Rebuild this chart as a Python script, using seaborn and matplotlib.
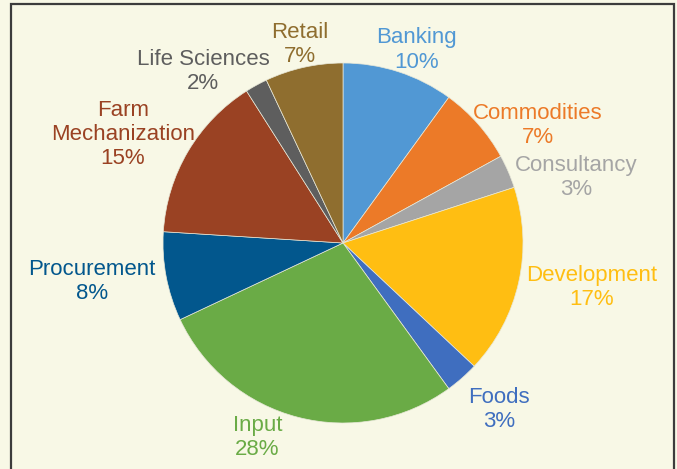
import matplotlib
matplotlib.use("Agg")
import matplotlib.pyplot as plt
import matplotlib.transforms as mtransforms
import seaborn as sns
import numpy as np
from matplotlib.patches import Rectangle

categories = ["Banking", "Commodities", "Consultancy", "Development", "Foods",
              "Input", "Procurement", "Farm\nMechanization", "Life Sciences", "Retail"]
values = [10, 7, 3, 17, 3, 28, 8, 15, 2, 7]
colors = ["#5198D4", "#EC7A28", "#A5A5A5", "#FFBE12", "#3F6EBF",
          "#6AAB46", "#02578D", "#9A4223", "#5E5E5E", "#8F6E2F"]
text_colors = ["#5198D4", "#EC7A28", "#A5A5A5", "#FFBE12", "#3F6EBF",
               "#6AAB46", "#02578D", "#9A4223", "#5E5E5E", "#8F6E2F"]
# label placement (polar: degrees clockwise from 12 o'clock, distance in radii)
label_angle = [20.5, 58.4, 73.8, 99.6, 136.4, 204.0, 261.9, 296.7, 321.2, 347.9]
label_dist = [1.16, 1.27, 1.35, 1.40, 1.26, 1.17, 1.41, 1.37, 1.24, 1.14]

sns.set_style("white")
plt.rcParams["font.family"] = ["Liberation Sans", "DejaVu Sans"]

bg = "#F8F8E6"
fig = plt.figure(figsize=(6.77, 4.69), dpi=100, facecolor=bg)
W, H = 677, 469
cx, cy, R = 343, 243, 180
ax = fig.add_axes([(cx - R) / W, (H - cy - R) / H, 2 * R / W, 2 * R / H])
ax.set_facecolor(bg)

wedges, _ = ax.pie(values, colors=colors, startangle=90, counterclock=False,
                   radius=1.0, wedgeprops=dict(edgecolor="#E8E8D8", linewidth=0.5))
ax.set_xlim(-1, 1)
ax.set_ylim(-1, 1)
ax.set_aspect("equal")
ax.axis("off")

text_tr = mtransforms.offset_copy(ax.transData, fig=fig, x=0, y=-2.5, units="dots")
for cat, v, tc, ang, d in zip(categories, values, text_colors, label_angle, label_dist):
    a = np.deg2rad(ang)
    x, y = d * np.sin(a), d * np.cos(a)
    ax.text(x, y, f"{cat}\n{v}%", ha="center", va="center", color=tc,
            fontsize=16, linespacing=1.2, clip_on=False, transform=text_tr)

rect = Rectangle((11.0 / W, -0.1), (673.5 - 11.0) / W, 1.1 - 4.0 / H,
                 transform=fig.transFigure, fill=False, edgecolor="#3C3C3C",
                 linewidth=1.6, clip_on=False)
fig.patches.append(rect)

fig.savefig("out.png", dpi=100, facecolor=bg)
